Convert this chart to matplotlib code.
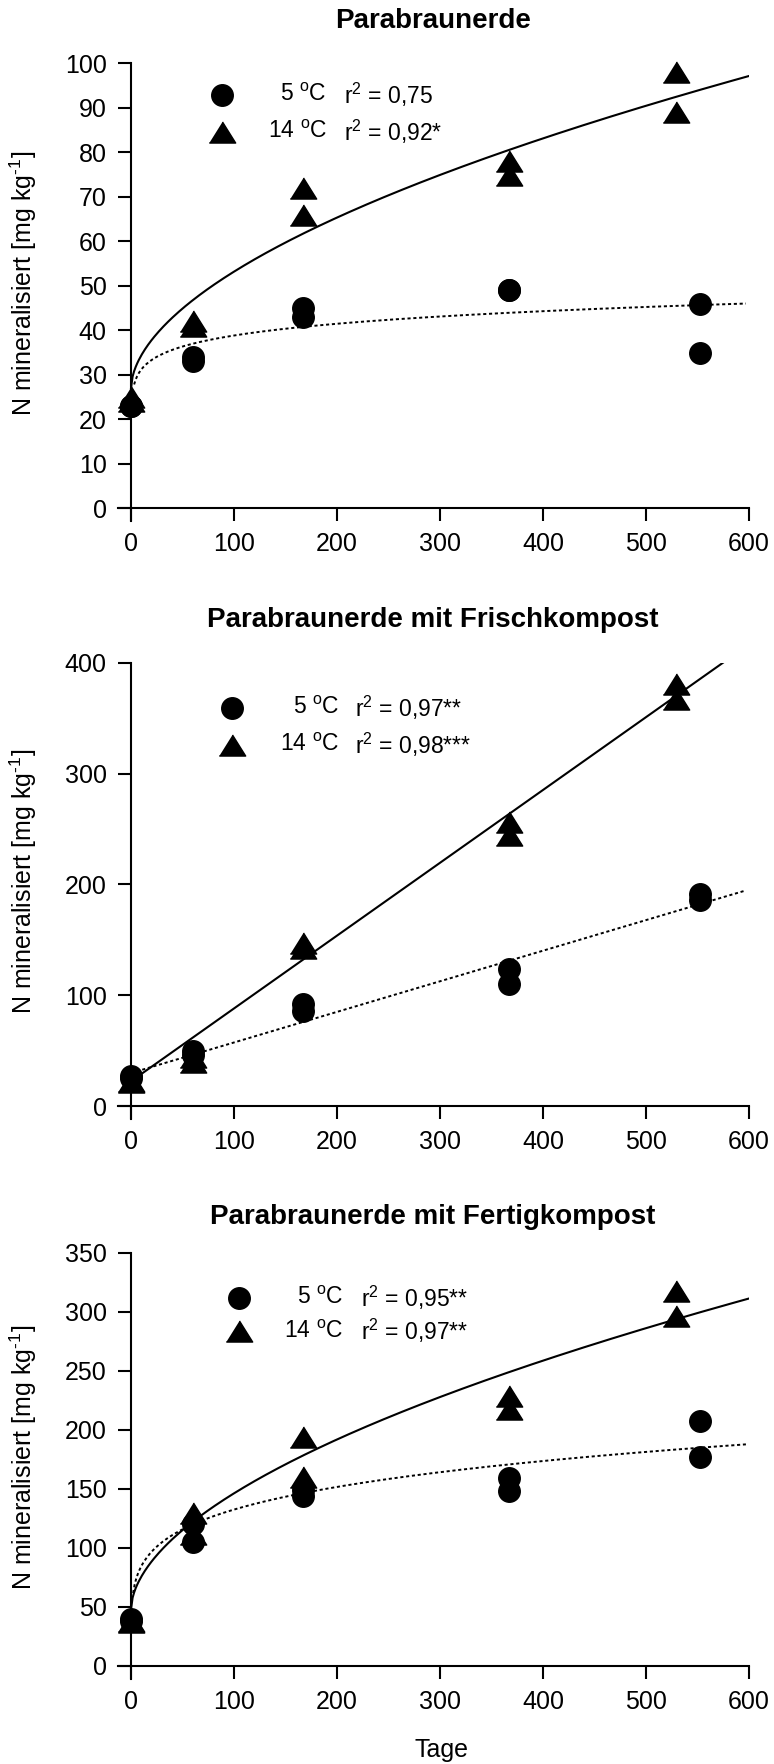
import numpy as np
import matplotlib
matplotlib.use('Agg')
import matplotlib.pyplot as plt

plt.rcParams['font.family'] = ['Liberation Sans', 'DejaVu Sans']
plt.rcParams['mathtext.fontset'] = 'custom'
plt.rcParams['mathtext.rm'] = 'Liberation Sans'
plt.rcParams['mathtext.it'] = 'Liberation Sans'

# sampling days
days_5 = [0, 0, 60, 60, 167, 167, 367, 367, 552, 552]
days_14 = [0, 0, 60, 60, 167, 167, 367, 367, 529, 529]

# N mineralised [mg/kg], two replicates per date
pb_5 = [23, 23, 34, 33, 45, 43, 49, 49, 46, 35]
pb_14 = [25, 24, 42, 41, 72, 66, 78, 75, 98, 89]

fk_5 = [27, 25, 50, 46, 92, 86, 124, 110, 191, 186]
fk_14 = [23, 22, 44, 40, 147, 143, 256, 245, 381, 367]

ek_5 = [40, 38, 120, 105, 149, 144, 159, 148, 208, 177]
ek_14 = [38, 37, 130, 112, 194, 160, 229, 218, 318, 297]

titles = ['Parabraunerde',
          'Parabraunerde mit Frischkompost',
          'Parabraunerde mit Fertigkompost']
r2_5 = ['0,75', '0,97**', '0,95**']
r2_14 = ['0,92*', '0,98***', '0,97**']
ymax = [100, 400, 350]
ystep = [10, 100, 50]

# fitted curves: y = a + b * x**c
fit_5 = [(0.0, 25.07, 0.095), (29.8, 0.276, 1.0), (0.0, 54.0, 0.195)]
fit_14 = [(27.0, 2.08, 0.55), (22.4, 0.657, 1.0), (48.0, 7.81, 0.55)]
fit_5_start = [3, 0, 2]
fit_14_end = [600, 575, 600]

series_5 = [pb_5, fk_5, ek_5]
series_14 = [pb_14, fk_14, ek_14]

# legend placement per panel (data units)
leg_x = [88, 98, 105]
leg_y = [(92.9, 84.6), (359.6, 326.0), (312.0, 283.6)]
leg_c = [190, 202, 206]
leg_r = [207, 217, 223]

tri = [(-1, -0.8), (1, -0.8), (0, 0.8)]

fig = plt.figure(figsize=(7.74, 17.64), dpi=100)
boxes = [[0.1525, 0.7045, 0.8152, 0.2596],
         [0.1525, 0.3656, 0.8152, 0.2587],
         [0.1525, 0.0482, 0.8152, 0.2415]]
title_y = [0.9883, 0.6485, 0.3103]
ext_px = 13.0

for i in range(3):
    ax = fig.add_axes(boxes[i])
    # let both axis lines run past the origin by one tick length
    hpx = boxes[i][3] * 1764 - ext_px
    ax.set_xlim(-ext_px * 600 / 618.0, 600)
    ax.set_ylim(-ext_px * ymax[i] / hpx, ymax[i])

    for s in ['top', 'right']:
        ax.spines[s].set_visible(False)
    ax.spines['left'].set_position(('data', 0))
    ax.spines['bottom'].set_position(('data', 0))
    for s in ['left', 'bottom']:
        ax.spines[s].set_linewidth(1.5)

    ax.set_xticks(np.arange(0, 601, 100))
    ax.set_yticks(np.arange(0, ymax[i] + 1, ystep[i]))
    ax.tick_params(direction='out', length=9.4, width=1.5, labelsize=18, pad=8)

    xs = np.linspace(0, fit_14_end[i], 400)
    a, b, c = fit_14[i]
    ax.plot(xs, a + b * xs ** c, color='black', lw=1.5)
    xs = np.linspace(fit_5_start[i], 597, 400)
    a, b, c = fit_5[i]
    ax.plot(xs, a + b * xs ** c, color='black', lw=1.4, linestyle=(0, (1.6, 1.4)))

    ax.plot(days_5, series_5[i], 'o', color='black', ms=15.5, clip_on=False)
    ax.plot(days_14, series_14[i], marker=tri, ls='none', color='black', ms=19, clip_on=False)

    # legend
    ax.plot(leg_x[i], leg_y[i][0], 'o', color='black', ms=15.5)
    ax.plot(leg_x[i], leg_y[i][1], marker=tri, ls='none', color='black', ms=19)
    ax.text(leg_c[i], leg_y[i][0], r'5 $^{\rm o}$C', ha='right', va='center', fontsize=16.5)
    ax.text(leg_c[i], leg_y[i][1], r'14 $^{\rm o}$C', ha='right', va='center', fontsize=16.5)
    ax.text(leg_r[i], leg_y[i][0], r'r$^{2}$ = ' + r2_5[i], ha='left', va='center', fontsize=16.5)
    ax.text(leg_r[i], leg_y[i][1], r'r$^{2}$ = ' + r2_14[i], ha='left', va='center', fontsize=16.5)

    ax.set_ylabel(r'N mineralisiert [mg kg$^{\text{-1}}$]', fontsize=18)
    ax.yaxis.set_label_coords(-0.125, 0.52)

    fig.text(0.5594, title_y[i], titles[i], ha='center', va='center',
             fontsize=20, fontweight='bold')

fig.text(0.5707, 0.008, 'Tage', ha='center', va='center', fontsize=18)

plt.savefig('out.png', dpi=100)
